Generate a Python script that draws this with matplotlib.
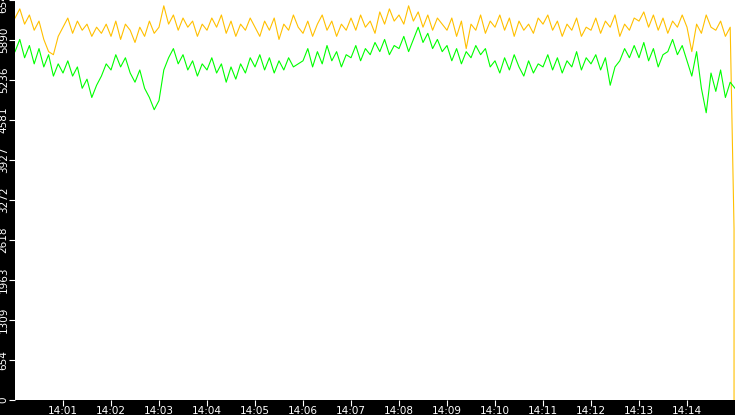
import matplotlib
matplotlib.use("Agg")
import matplotlib.pyplot as plt
import numpy as np

orange = [
6250,6400,6150,6300,6050,6200,5900,5700,5650,5950,
6100,6250,6000,6200,6050,6150,5950,6100,6000,6150,
5950,6200,5900,6150,6050,5850,6100,5950,6200,6000,
6100,6450,6150,6300,6050,6250,6100,6200,5950,6150,
6050,6250,6100,6300,6000,6200,5950,6150,6050,6250,
6100,5950,6200,6050,6250,5900,6150,6050,6300,6100,
6000,6200,5950,6150,6300,6050,6200,5950,6150,6050,
6250,6050,6300,6100,6200,6000,6350,6150,6400,6200,
6300,6150,6450,6200,6350,6100,6300,6050,6250,6150,
6050,6250,5950,6200,5750,6150,6050,6300,6000,6200,
6100,6300,6050,6250,5950,6200,6050,6150,6000,6250,
6150,6300,6050,6200,5950,6150,6050,6250,5950,6100,
6050,6250,6000,6200,6100,6300,5950,6150,6050,6250,
6200,6350,6100,6300,6050,6250,6000,6200,6100,6300,
6100,5700,6150,6000,6300,6100,6050,6200,5950,6100,
2800,0]
green = [
5700,5900,5600,5800,5500,5750,5450,5650,5300,5500,
5350,5550,5300,5450,5100,5250,4950,5150,5300,5500,
5400,5650,5450,5600,5350,5200,5400,5100,4950,4750,
4900,5400,5600,5750,5500,5650,5400,5550,5300,5500,
5400,5600,5350,5500,5200,5450,5250,5500,5350,5600,
5450,5650,5400,5600,5350,5550,5400,5600,5450,5500,
5550,5750,5450,5700,5500,5800,5550,5700,5450,5650,
5600,5800,5550,5750,5650,5850,5700,5900,5650,5800,
5750,5950,5700,5900,6100,5850,6000,5750,5900,5700,
5800,5550,5750,5500,5700,5600,5800,5650,5750,5450,
5550,5350,5600,5400,5650,5450,5300,5550,5350,5500,
5450,5650,5400,5600,5350,5550,5450,5700,5400,5600,
5500,5650,5400,5600,5150,5450,5550,5750,5600,5800,
5600,5850,5550,5750,5450,5650,5700,5900,5650,5800,
5550,5300,5700,5100,4700,5350,5050,5400,4950,5200,
5100]
ytick_vals = [0, 654, 1309, 1963, 2618, 3272, 3927, 4581, 5236, 5890, 6545]
xtick_labels = ["14:%02d" % m for m in range(1, 15)]

# time in minutes after 14:00 (6-second samples)
t_g = np.arange(len(green)) * 0.1
t_o = np.append(np.arange(150) * 0.1, [14.98, 14.98])

fig = plt.figure(figsize=(7.35, 4.15), dpi=100, facecolor="black")
ax = fig.add_axes([15/735, 15/415, 720/735, 400/415])
ax.set_facecolor("white")
ax.plot(t_o, orange, color="#FFC000", lw=0.8)
ax.plot(t_g, green, color="#00FF00", lw=0.8)
ax.set_xlim(0, 15)
ax.set_ylim(0, 6545)
for s in ax.spines.values():
    s.set_visible(False)
ax.set_yticks(ytick_vals)
ax.set_yticklabels([str(v) for v in ytick_vals], rotation=90, va="center", ha="right")
ax.set_xticks(range(1, 15))
ax.set_xticklabels(xtick_labels)
ax.tick_params(axis="both", colors="white", labelsize=7.5, length=4, width=0.8, pad=0.5)
fig.savefig("out.png", dpi=100, facecolor="black")
